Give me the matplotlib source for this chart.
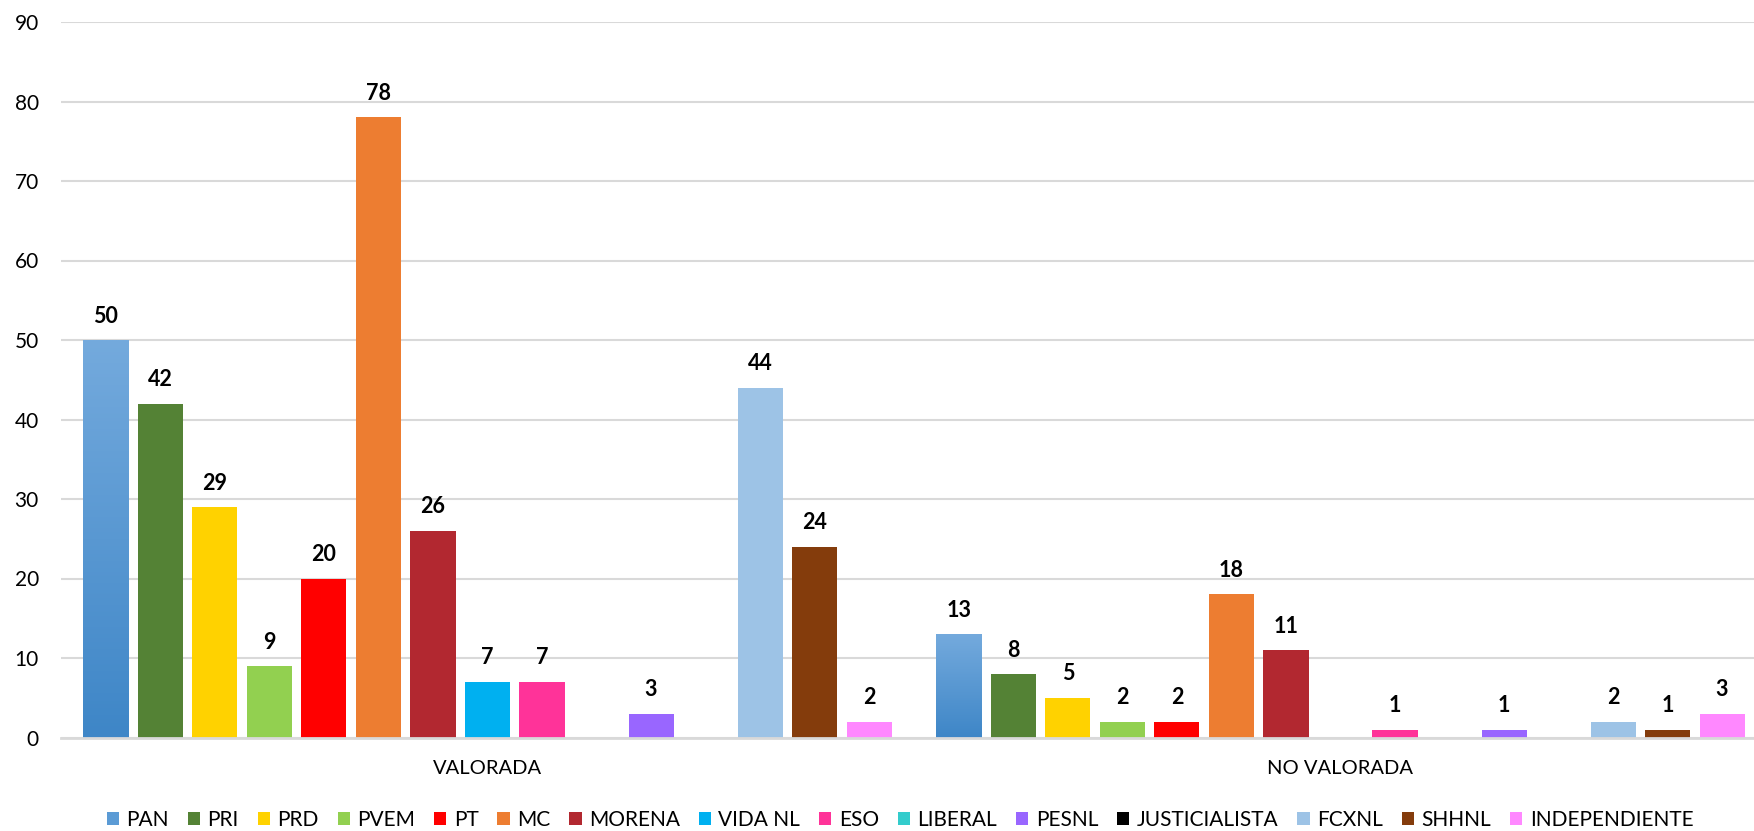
import matplotlib
matplotlib.use('Agg')
import matplotlib.pyplot as plt
from matplotlib.colors import LinearSegmentedColormap
import numpy as np

categories = ['VALORADA', 'NO VALORADA']
parties = ['PAN', 'PRI', 'PRD', 'PVEM', 'PT', 'MC', 'MORENA', 'VIDA NL', 'ESO',
           'LIBERAL', 'PESNL', 'JUSTICIALISTA', 'FCXNL', 'SHHNL', 'INDEPENDIENTE']
valorada = [50, 42, 29, 9, 20, 78, 26, 7, 7, 0, 3, 0, 44, 24, 2]
no_valorada = [13, 8, 5, 2, 2, 18, 11, 0, 1, 0, 1, 0, 2, 1, 3]
colors = ['#5B9BD5', '#548235', '#FFD200', '#92D050', '#FF0000', '#ED7D31',
          '#B22830', '#00B0F0', '#FF3399', '#33CCCC', '#9966FF', '#000000',
          '#9DC3E6', '#843C0C', '#FF88FF']

plt.rcParams['font.family'] = ['Lato', 'DejaVu Sans']

fig = plt.figure(figsize=(17.54, 8.31), dpi=100)
ax = fig.add_axes([61 / 1754, 1 - 737.5 / 831, (1754 - 61) / 1754, (737.5 - 22) / 831])

vals = np.array([valorada, no_valorada])  # shape (2, 15)
x = np.arange(len(categories))
step = 0.0639
width = 0.0528
offsets = (np.arange(len(parties)) - (len(parties) - 1) / 2) * step

pan_grad = LinearSegmentedColormap.from_list('pan', ['#3E86C7', '#74AADD'])

for i, (name, col) in enumerate(zip(parties, colors)):
    bars = ax.bar(x + offsets[i], vals[:, i], width, color=col, label=name, zorder=2)
    if name == 'PAN':
        # PAN bars have a vertical gradient in the original
        for b in bars:
            grad = np.linspace(0, 1, 256).reshape(-1, 1)
            ax.imshow(grad, extent=[b.get_x(), b.get_x() + b.get_width(), 0, b.get_height()],
                      origin='lower', aspect='auto', cmap=pan_grad, zorder=2.5)
    for xi, v in zip(x + offsets[i], vals[:, i]):
        if v > 0:
            ax.annotate(f'{v}', (xi, v), xytext=(0, 12.5), textcoords='offset points',
                        ha='center', va='baseline', fontsize=15.5, fontweight='bold')

ax.set_xlim(-0.5, -0.5 + (1754 - 61) / 853)
ax.set_ylim(0, 90)
ax.set_yticks(range(0, 91, 10))
ax.set_xticks(x, categories)
ax.tick_params(axis='y', length=0, pad=16, labelsize=15)
ax.tick_params(axis='x', length=0, pad=16, labelsize=14.5)
ax.grid(axis='y', color='#D9D9D9', lw=1.5, zorder=0)
ax.set_axisbelow(True)
for s in ['top', 'right', 'left']:
    ax.spines[s].set_visible(False)
ax.spines['bottom'].set_color('#D9D9D9')
ax.spines['bottom'].set_linewidth(2)

fig.legend(loc='center', bbox_to_anchor=(900 / 1754, 1 - 820 / 831), ncol=len(parties),
           frameon=False, fontsize=15, handlelength=0.6, handleheight=0.6,
           handletextpad=0.35, columnspacing=0.9, borderaxespad=0)

fig.savefig('out.png', dpi=100)
